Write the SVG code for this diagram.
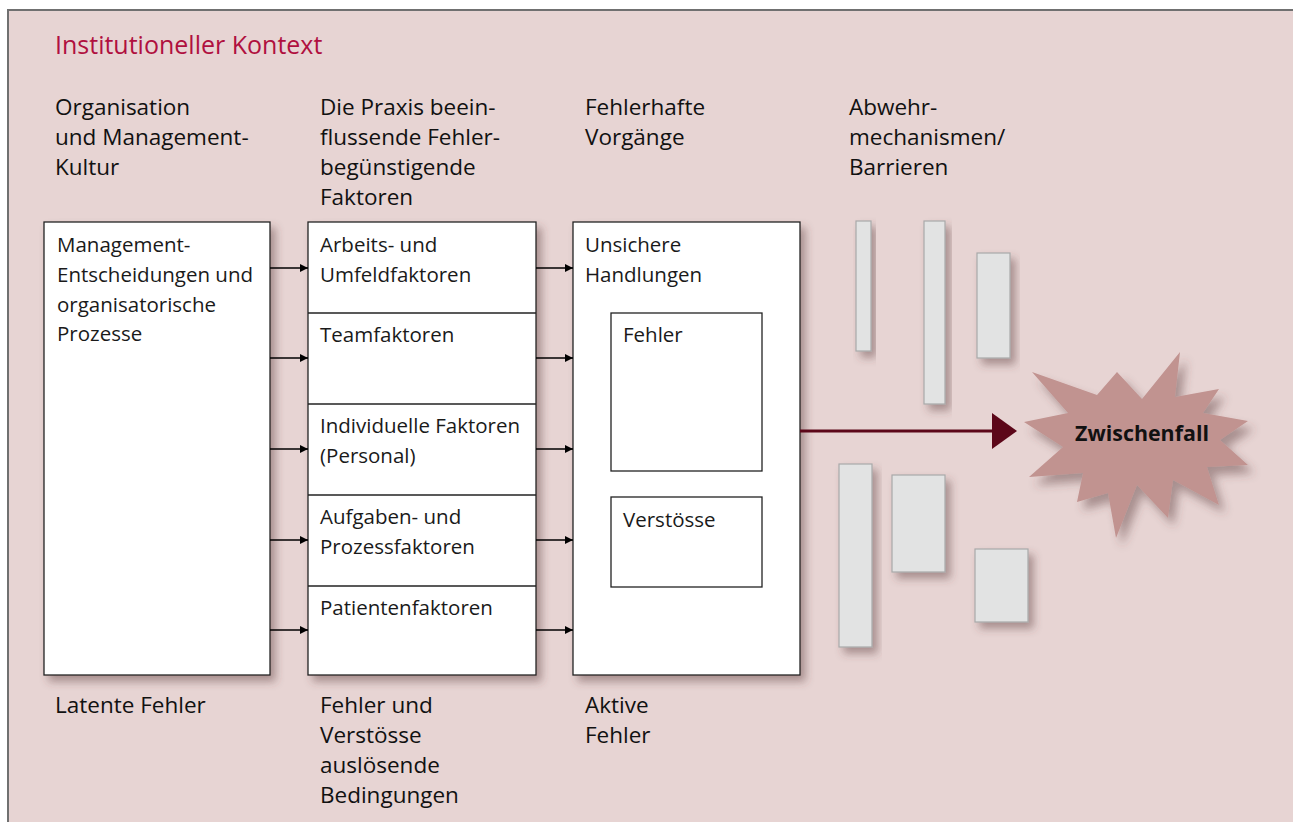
<svg xmlns="http://www.w3.org/2000/svg" width="1293" height="822" viewBox="0 0 1293 822">
<defs>
<style>
text{font-family:"Open Sans","Noto Sans","Liberation Sans",sans-serif;font-size:22.5px;fill:#111}
.title{fill:#b0103f;font-size:25px}
.bx{fill:#1a1a1a;font-size:20.5px}
.zw{font-size:21.4px;font-weight:bold;fill:#111}
.box{fill:#fff;stroke:#222;stroke-width:1.3}
.inner{fill:#fff;stroke:#222;stroke-width:1.3}
.div{stroke:#222;stroke-width:1.3}
.bar{fill:#e2e3e3;stroke:#a9a9a9;stroke-width:1.2}
.conn{stroke:#000;stroke-width:1.3;fill:none}
</style>
<filter id="sh" x="-20%" y="-20%" width="150%" height="150%">
<feDropShadow dx="5" dy="6" stdDeviation="4" flood-color="#5a3a3a" flood-opacity="0.45"/>
</filter>
<filter id="sh2" x="-20%" y="-20%" width="150%" height="150%">
<feDropShadow dx="6" dy="8" stdDeviation="5" flood-color="#5a3a3a" flood-opacity="0.45"/>
</filter>
<marker id="ah" viewBox="0 0 10 10" refX="10" refY="5" markerWidth="8" markerHeight="10" markerUnits="userSpaceOnUse" orient="auto">
<path d="M0,0 L10,5 L0,10 Z" fill="#000"/>
</marker>
</defs>
<rect x="0" y="0" width="1293" height="822" fill="#fff"/>
<rect x="8" y="10" width="1300" height="830" fill="#e7d4d3" stroke="#707070" stroke-width="2"/>
<text class="title" x="55" y="54">Institutioneller Kontext</text>

<g id="headers">
<text x="55" y="115">Organisation</text>
<text x="55" y="145">und Management-</text>
<text x="55" y="175">Kultur</text>
<text x="320" y="115">Die Praxis beein-</text>
<text x="320" y="145">flussende Fehler-</text>
<text x="320" y="175">begünstigende</text>
<text x="320" y="205">Faktoren</text>
<text x="585" y="115">Fehlerhafte</text>
<text x="585" y="145">Vorgänge</text>
<text x="849" y="115">Abwehr-</text>
<text x="849" y="145">mechanismen/</text>
<text x="849" y="175">Barrieren</text>
</g>

<g id="node-management">
<rect class="box" x="44" y="222" width="226" height="453" filter="url(#sh)"/>
<text class="bx" x="57" y="252">Management-</text>
<text class="bx" x="57" y="282">Entscheidungen und</text>
<text class="bx" x="57" y="312">organisatorische</text>
<text class="bx" x="57" y="341">Prozesse</text>
</g>

<g id="node-faktoren">
<rect class="box" x="308" y="222" width="228" height="453" filter="url(#sh)"/>
<line class="div" x1="308" y1="313" x2="536" y2="313"/>
<line class="div" x1="308" y1="404" x2="536" y2="404"/>
<line class="div" x1="308" y1="495" x2="536" y2="495"/>
<line class="div" x1="308" y1="586" x2="536" y2="586"/>
<text class="bx" x="320" y="252">Arbeits- und</text>
<text class="bx" x="320" y="282">Umfeldfaktoren</text>
<text class="bx" x="320" y="342">Teamfaktoren</text>
<text class="bx" x="320" y="433">Individuelle Faktoren</text>
<text class="bx" x="320" y="463">(Personal)</text>
<text class="bx" x="320" y="524">Aufgaben- und</text>
<text class="bx" x="320" y="554">Prozessfaktoren</text>
<text class="bx" x="320" y="615">Patientenfaktoren</text>
</g>

<g id="node-handlungen">
<rect class="box" x="573" y="222" width="227" height="453" filter="url(#sh)"/>
<text class="bx" x="585" y="252">Unsichere</text>
<text class="bx" x="585" y="282">Handlungen</text>
<rect class="inner" x="611" y="313" width="151" height="158"/>
<text class="bx" x="623" y="342">Fehler</text>
<rect class="inner" x="611" y="497" width="151" height="90"/>
<text class="bx" x="623" y="527">Verstösse</text>
</g>

<g id="barriers">
<rect class="bar" x="856" y="221" width="15" height="130" filter="url(#sh)"/>
<rect class="bar" x="924" y="221" width="21" height="183" filter="url(#sh)"/>
<rect class="bar" x="977" y="253" width="33" height="105" filter="url(#sh)"/>
<rect class="bar" x="839" y="464" width="33" height="183" filter="url(#sh)"/>
<rect class="bar" x="892" y="475" width="53" height="97" filter="url(#sh)"/>
<rect class="bar" x="975" y="549" width="53" height="73" filter="url(#sh)"/>
</g>

<g id="node-zwischenfall">
<polygon fill="#c19390" filter="url(#sh2)" points="1032,372 1097,395 1117,372 1142,399 1180,352 1175,397 1219,389 1203,413 1248,421 1220,440 1248,465 1207,467 1219,505 1173,480 1168,518 1137,485 1116,538 1108,493 1077,502 1083,473 1029,477 1063,447 1024,422 1068,413"/>
<text class="zw" x="1142" y="441" text-anchor="middle">Zwischenfall</text>
</g>

<g id="connectors">
<line class="conn" x1="270" y1="268" x2="308" y2="268" marker-end="url(#ah)"/>
<line class="conn" x1="270" y1="358" x2="308" y2="358" marker-end="url(#ah)"/>
<line class="conn" x1="270" y1="449" x2="308" y2="449" marker-end="url(#ah)"/>
<line class="conn" x1="270" y1="540" x2="308" y2="540" marker-end="url(#ah)"/>
<line class="conn" x1="270" y1="630" x2="308" y2="630" marker-end="url(#ah)"/>
<line class="conn" x1="536" y1="268" x2="573" y2="268" marker-end="url(#ah)"/>
<line class="conn" x1="536" y1="358" x2="573" y2="358" marker-end="url(#ah)"/>
<line class="conn" x1="536" y1="449" x2="573" y2="449" marker-end="url(#ah)"/>
<line class="conn" x1="536" y1="540" x2="573" y2="540" marker-end="url(#ah)"/>
<line class="conn" x1="536" y1="630" x2="573" y2="630" marker-end="url(#ah)"/>
<line x1="800" y1="431" x2="994" y2="431" stroke="#5c0719" stroke-width="3"/>
<polygon points="992,413 1017,431 992,449" fill="#5c0719"/>
</g>

<g id="footers">
<text x="55" y="713">Latente Fehler</text>
<text x="320" y="713">Fehler und</text>
<text x="320" y="743">Verstösse</text>
<text x="320" y="773">auslösende</text>
<text x="320" y="803">Bedingungen</text>
<text x="585" y="713">Aktive</text>
<text x="585" y="743">Fehler</text>
</g>
</svg>
